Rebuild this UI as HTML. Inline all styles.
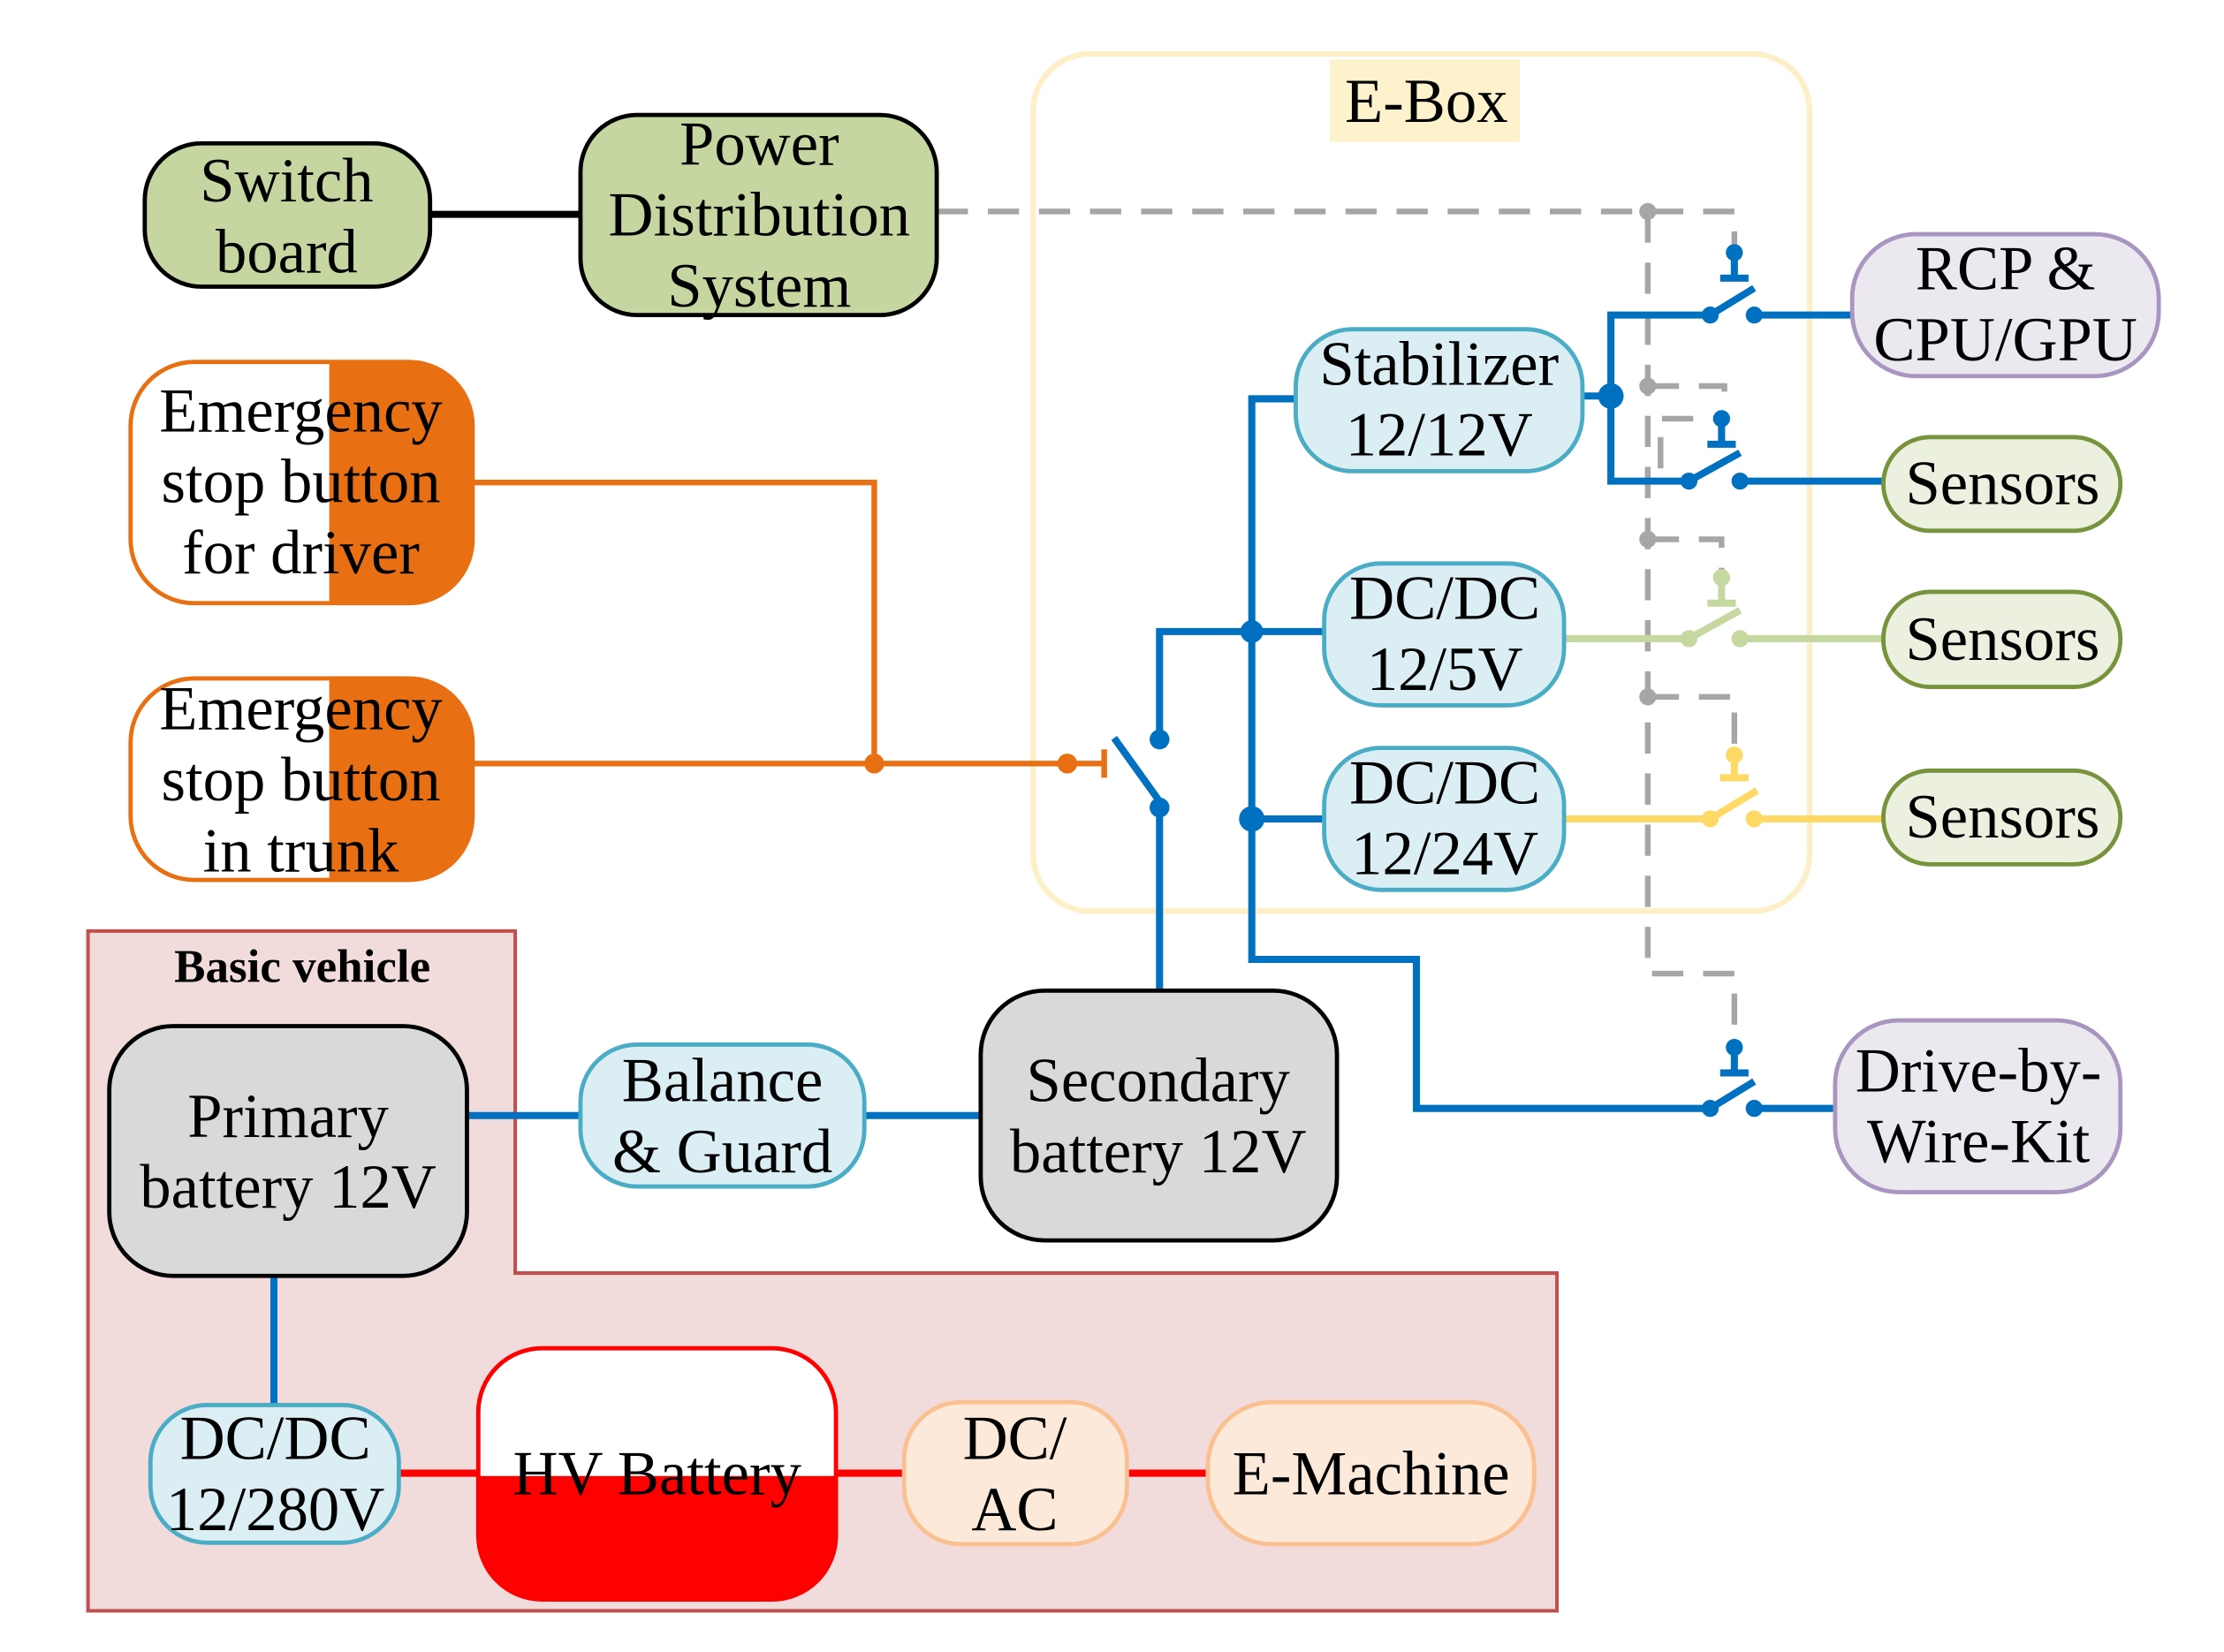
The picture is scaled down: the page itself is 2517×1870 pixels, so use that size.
<!DOCTYPE html>
<html><head><meta charset="utf-8"><style>html,body{margin:0;padding:0;background:#fff}svg{display:block}text{font-family:"Liberation Serif",serif;font-size:44px;fill:#000;text-anchor:middle}</style></head><body>
<svg width="2517" height="1870" viewBox="0 0 1567 1164" preserveAspectRatio="none" xmlns="http://www.w3.org/2000/svg">
<defs><clipPath id="c1"><rect x="92" y="255" width="241" height="170" rx="45"/></clipPath><clipPath id="c2"><rect x="92" y="478" width="241" height="142" rx="45"/></clipPath><clipPath id="c3"><rect x="337" y="950" width="252" height="177" rx="45"/></clipPath></defs>
<polygon points="62,656 363,656 363,897 1097,897 1097,1135 62,1135" fill="#f2dcdb" stroke="#c0504d" stroke-width="2.5"/>
<text x="213" y="692" style="font-weight:bold;font-size:33px">Basic vehicle</text>
<rect x="728" y="38" width="547" height="604" rx="40" fill="none" stroke="#fdf0c8" stroke-width="4"/>
<rect x="937" y="42" width="134" height="58" fill="#fdf2cc"/>
<text x="1005" y="86">E-Box</text>
<g stroke="#a6a6a6" stroke-width="4" fill="none" stroke-dasharray="22,14">
<path d="M660,149 H1222 V178"/><path d="M1161,149 V686 H1222 V730"/>
<path d="M1161,272 H1215 V292"/><path d="M1170,330 V295 H1212"/>
<path d="M1161,380 H1213 V405"/><path d="M1161,491 H1222 V530"/>
</g>
<g fill="#a6a6a6"><circle cx="1161" cy="149" r="6"/><circle cx="1161" cy="272" r="6"/><circle cx="1161" cy="380" r="6"/><circle cx="1161" cy="491" r="6"/></g>
<line x1="303" y1="151" x2="409" y2="151" stroke="#000" stroke-width="5"/>
<g stroke="#e87012" stroke-width="4" fill="none"><path d="M333,340 H616 V538"/><path d="M333,538 H778"/><path d="M778,528 V548"/></g>
<g fill="#e87012"><circle cx="616" cy="538" r="7"/><circle cx="752" cy="538" r="7"/></g>
<g stroke="#0070c0" stroke-width="5" fill="none">
<path d="M817,700 V569"/><path d="M785,520 L818,566"/><path d="M817,521 V445 H935"/>
<path d="M913,281 H882 V676 H998 V781 H1205"/><path d="M882,577 H935"/>
<path d="M1115,279 H1135"/><path d="M1205,222 H1135 V339 H1190"/>
<path d="M1205,222 L1236,203"/><path d="M1236,222 H1305"/><path d="M1190,339 L1226,319"/><path d="M1226,339 H1327"/>
<path d="M1205,781 L1236,762"/><path d="M1236,781 H1293"/>
<path d="M1222,178 V196 M1212,196 H1232"/><path d="M1213,295 V313 M1203,313 H1223"/><path d="M1222,738 V756 M1212,756 H1232"/>
<path d="M329,786 H409 M609,786 H691 M193,899 V990"/>
</g>
<g fill="#0070c0"><circle cx="817" cy="521" r="7"/><circle cx="817" cy="569" r="7"/><circle cx="882" cy="445" r="8"/><circle cx="882" cy="577" r="9"/><circle cx="1135" cy="279" r="9"/>
<circle cx="1205" cy="222" r="6"/><circle cx="1236" cy="222" r="6"/><circle cx="1190" cy="339" r="6"/><circle cx="1226" cy="339" r="6"/><circle cx="1205" cy="781" r="6"/><circle cx="1236" cy="781" r="6"/>
<circle cx="1222" cy="178" r="6"/><circle cx="1213" cy="295" r="6"/><circle cx="1222" cy="738" r="6"/></g>
<g stroke="#c4d8a0" stroke-width="5" fill="none"><path d="M1102,450 H1190 L1226,430"/><path d="M1226,450 H1327"/><path d="M1213,405 V425 M1203,425 H1223"/></g>
<g fill="#c4d8a0"><circle cx="1190" cy="450" r="6"/><circle cx="1226" cy="450" r="6"/><circle cx="1213" cy="407" r="6"/></g>
<g stroke="#ffd966" stroke-width="5" fill="none"><path d="M1102,577 H1205 L1238,557"/><path d="M1236,577 H1327"/><path d="M1222,530 V548 M1212,548 H1232"/></g>
<g fill="#ffd966"><circle cx="1205" cy="577" r="6"/><circle cx="1236" cy="577" r="6"/><circle cx="1222" cy="532" r="6"/></g>
<path d="M281,1038 H337 M589,1038 H637 M794,1038 H851" stroke="#ff0000" stroke-width="5"/>
<rect x="102" y="101" width="201" height="101" rx="40" fill="#c5d6a0" stroke="#000" stroke-width="3"/>
<text x="202" y="142">Switch</text><text x="202" y="192">board</text>
<rect x="409" y="81" width="251" height="141" rx="40" fill="#c5d6a0" stroke="#000" stroke-width="3"/>
<text x="535" y="116">Power</text><text x="535" y="166">Distribution</text><text x="535" y="216">System</text>
<rect x="92" y="255" width="241" height="170" rx="45" fill="#fff"/>
<rect x="232" y="250" width="110" height="180" fill="#e87012" clip-path="url(#c1)"/>
<rect x="92" y="255" width="241" height="170" rx="45" fill="none" stroke="#e87012" stroke-width="3"/>
<text x="212" y="304">Emergency</text><text x="212" y="354">stop button</text><text x="212" y="404">for driver</text>
<rect x="92" y="478" width="241" height="142" rx="45" fill="#fff"/>
<rect x="232" y="470" width="110" height="160" fill="#e87012" clip-path="url(#c2)"/>
<rect x="92" y="478" width="241" height="142" rx="45" fill="none" stroke="#e87012" stroke-width="3"/>
<text x="212" y="514">Emergency</text><text x="212" y="564">stop button</text><text x="212" y="614">in trunk</text>
<g fill="#daeef3" stroke="#4bacc6" stroke-width="3">
<rect x="913" y="232" width="202" height="100" rx="40"/><rect x="933" y="397" width="169" height="100" rx="40"/><rect x="933" y="527" width="169" height="100" rx="40"/>
<rect x="409" y="736" width="200" height="100" rx="40"/><rect x="106" y="990" width="175" height="97" rx="40"/></g>
<text x="1014" y="271">Stabilizer</text><text x="1014" y="321">12/12V</text>
<text x="1018" y="436">DC/DC</text><text x="1018" y="486">12/5V</text>
<text x="1018" y="566">DC/DC</text><text x="1018" y="616">12/24V</text>
<text x="509" y="776">Balance</text><text x="509" y="826">&amp; Guard</text>
<text x="194" y="1028">DC/DC</text><text x="194" y="1078">12/280V</text>
<rect x="1305" y="165" width="216" height="100" rx="45" fill="#ece8f0" stroke="#a895c0" stroke-width="3"/>
<text x="1413" y="204">RCP &amp;</text><text x="1413" y="254">CPU/GPU</text>
<g fill="#ebf1de" stroke="#77933c" stroke-width="3"><rect x="1327" y="308" width="167" height="66" rx="33"/><rect x="1327" y="417" width="167" height="67" rx="33"/><rect x="1327" y="543" width="167" height="66" rx="33"/></g>
<text x="1411" y="355">Sensors</text><text x="1411" y="465">Sensors</text><text x="1411" y="590">Sensors</text>
<rect x="1293" y="719" width="201" height="121" rx="45" fill="#ece8f0" stroke="#a895c0" stroke-width="3"/>
<text x="1394" y="769">Drive-by-</text><text x="1394" y="819">Wire-Kit</text>
<g fill="#d9d9d9" stroke="#000" stroke-width="3"><rect x="77" y="723" width="252" height="176" rx="45"/><rect x="691" y="698" width="251" height="176" rx="45"/></g>
<text x="203" y="801">Primary</text><text x="203" y="851">battery 12V</text>
<text x="816" y="776">Secondary</text><text x="816" y="826">battery 12V</text>
<rect x="337" y="950" width="252" height="177" rx="45" fill="#fff"/>
<rect x="330" y="1040" width="270" height="100" fill="#ff0000" clip-path="url(#c3)"/>
<rect x="337" y="950" width="252" height="177" rx="45" fill="none" stroke="#ff0000" stroke-width="3"/>
<text x="463" y="1053">HV Battery</text>
<g fill="#fde9d9" stroke="#fac090" stroke-width="3"><rect x="637" y="988" width="157" height="100" rx="40"/><rect x="851" y="988" width="230" height="100" rx="45"/></g>
<text x="715" y="1028">DC/</text><text x="715" y="1078">AC</text>
<text x="966" y="1053">E-Machine</text>
</svg>
</body></html>
